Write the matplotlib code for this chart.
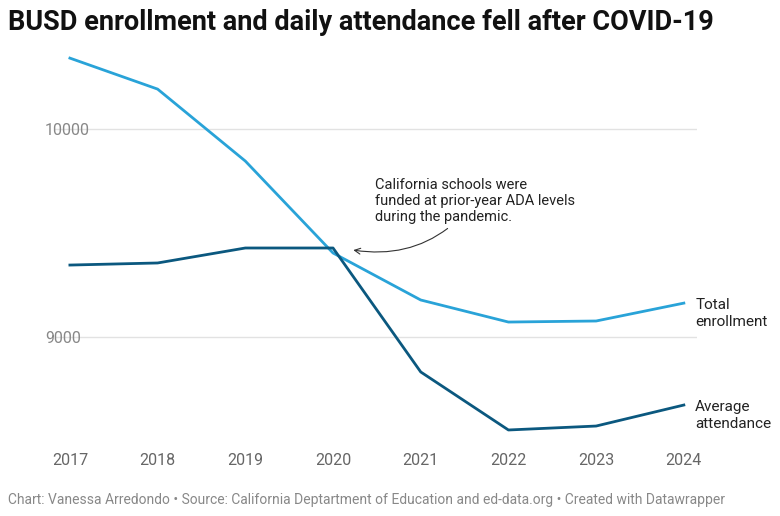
import matplotlib.pyplot as plt

years = [2017, 2018, 2019, 2020, 2021, 2022, 2023, 2024]
enrollment = [10341, 10192, 9846, 9404, 9178, 9072, 9077, 9163]
attendance = [9346, 9356, 9428, 9428, 8832, 8553, 8572, 8673]
yticks = [9000, 10000]

plt.rcParams['font.family'] = ['Roboto', 'DejaVu Sans']
fig = plt.figure(figsize=(7.8, 5.16), dpi=100)
ax = fig.add_axes([55 / 780, 1 - 446 / 516, 642 / 780, 396 / 516])

ax.plot(years, enrollment, color='#29a3d8', lw=2)
ax.plot(years, attendance, color='#0b587f', lw=2)
ax.set_xlim(2016.83, 2024.15)
ax.set_ylim(8476, 10380)
ax.set_yticks(yticks)
ax.set_yticklabels([str(v) for v in yticks])
ax.set_xticks(years)
ax.grid(axis='y', color='#e2e2e2', lw=1)
ax.set_axisbelow(True)
for s in ax.spines.values():
    s.set_visible(False)
ax.tick_params(length=0, labelsize=11.5, colors='#888888')
ax.tick_params(axis='y', pad=-2)
for lab in ax.get_yticklabels():
    lab.set_horizontalalignment('left')
    lab.set_x(-0.02)
ax.tick_params(axis='x', pad=5, labelcolor='#666666')

ax.text(2024.13, enrollment[-1] - 50, 'Total\nenrollment', fontsize=11, va='center', ha='left', color='#222222', clip_on=False)
ax.text(2024.13, attendance[-1] - 50, 'Average\nattendance', fontsize=11, va='center', ha='left', color='#222222', clip_on=False)

ax.annotate('California schools were\nfunded at prior-year ADA levels\nduring the pandemic.',
            xy=(2020.2, 9420), xytext=(2020.48, 9655), fontsize=10.5, color='#222222',
            va='center', ha='left',
            arrowprops=dict(arrowstyle='->', color='#333333', lw=0.8,
                            connectionstyle='arc3,rad=-0.3', shrinkA=2))

fig.text(8 / 780, 1 - 22 / 516, 'BUSD enrollment and daily attendance fell after COVID-19',
         fontsize=19.5, fontweight='bold', va='center', ha='left', color='#111111')
fig.text(8 / 780, 1 - 500 / 516,
         'Chart: Vanessa Arredondo • Source: California Deptartment of Education and ed-data.org • Created with Datawrapper',
         fontsize=10, va='center', ha='left', color='#888888')

fig.savefig('out.png', dpi=100)
